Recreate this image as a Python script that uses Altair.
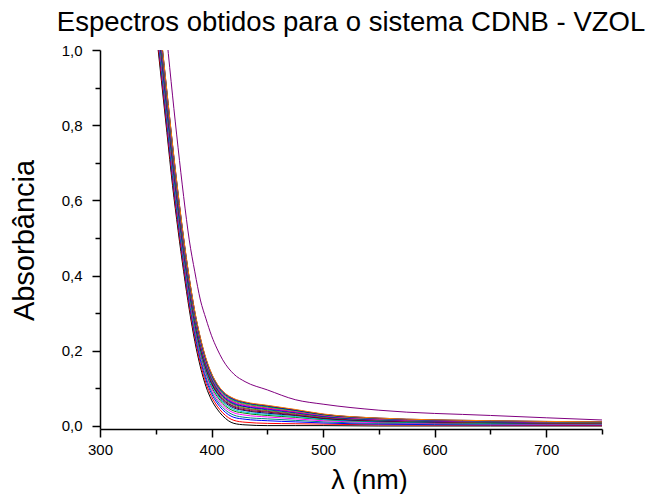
import altair as alt
import pandas as pd

# wavelength grid (nm)
lam = [350, 355, 360, 365, 370, 375, 380, 385, 390, 395, 400, 405, 410, 420, 430, 450, 475, 500, 550, 650, 750]

black   = [1.060, 0.920, 0.780, 0.640, 0.520, 0.410, 0.310, 0.225, 0.157, 0.105, 0.069, 0.045, 0.027, 0.007, 0.003, 0.001, 0.001, 0.001, 0.000, 0.000, 0.000]
red     = [1.072, 0.933, 0.793, 0.653, 0.532, 0.421, 0.320, 0.235, 0.166, 0.114, 0.078, 0.053, 0.035, 0.015, 0.010, 0.007, 0.006, 0.005, 0.003, 0.002, 0.001]
blue    = [1.084, 0.946, 0.806, 0.666, 0.544, 0.432, 0.330, 0.244, 0.176, 0.123, 0.086, 0.061, 0.043, 0.023, 0.018, 0.014, 0.011, 0.008, 0.005, 0.003, 0.003]
teal    = [1.093, 0.956, 0.816, 0.676, 0.553, 0.440, 0.338, 0.251, 0.183, 0.130, 0.092, 0.067, 0.049, 0.029, 0.023, 0.019, 0.015, 0.011, 0.007, 0.005, 0.004]
magenta = [1.102, 0.966, 0.826, 0.686, 0.562, 0.448, 0.346, 0.259, 0.190, 0.137, 0.099, 0.073, 0.055, 0.035, 0.029, 0.024, 0.019, 0.014, 0.009, 0.006, 0.005]
green   = [1.110, 0.975, 0.835, 0.695, 0.570, 0.455, 0.353, 0.265, 0.196, 0.143, 0.105, 0.079, 0.060, 0.040, 0.034, 0.028, 0.023, 0.017, 0.011, 0.007, 0.006]
cyan    = [1.116, 0.982, 0.842, 0.702, 0.576, 0.460, 0.358, 0.270, 0.201, 0.147, 0.109, 0.083, 0.064, 0.044, 0.037, 0.031, 0.025, 0.018, 0.012, 0.008, 0.006]
navy    = [1.122, 0.988, 0.848, 0.708, 0.582, 0.466, 0.363, 0.275, 0.205, 0.152, 0.113, 0.087, 0.068, 0.048, 0.041, 0.034, 0.028, 0.020, 0.013, 0.009, 0.007]
wine    = [1.126, 0.993, 0.853, 0.713, 0.586, 0.469, 0.366, 0.278, 0.208, 0.155, 0.116, 0.089, 0.071, 0.051, 0.043, 0.037, 0.029, 0.021, 0.014, 0.009, 0.007]
purple  = [1.130, 0.997, 0.857, 0.717, 0.590, 0.473, 0.370, 0.281, 0.212, 0.158, 0.119, 0.092, 0.073, 0.053, 0.046, 0.039, 0.031, 0.023, 0.015, 0.010, 0.008]
olive   = [1.134, 1.001, 0.861, 0.721, 0.594, 0.477, 0.373, 0.284, 0.215, 0.161, 0.122, 0.095, 0.076, 0.056, 0.048, 0.041, 0.033, 0.024, 0.016, 0.010, 0.008]
dcyan   = [1.138, 1.006, 0.866, 0.726, 0.598, 0.480, 0.376, 0.287, 0.218, 0.164, 0.124, 0.097, 0.078, 0.058, 0.051, 0.043, 0.035, 0.025, 0.016, 0.011, 0.009]
royal   = [1.141, 1.009, 0.869, 0.729, 0.601, 0.483, 0.379, 0.290, 0.220, 0.166, 0.127, 0.099, 0.080, 0.060, 0.052, 0.045, 0.036, 0.026, 0.017, 0.011, 0.009]
violet  = [1.144, 1.012, 0.872, 0.732, 0.604, 0.486, 0.381, 0.292, 0.223, 0.168, 0.129, 0.101, 0.082, 0.062, 0.054, 0.046, 0.037, 0.027, 0.018, 0.012, 0.009]
pink    = [1.147, 1.016, 0.876, 0.736, 0.607, 0.488, 0.384, 0.295, 0.225, 0.170, 0.131, 0.103, 0.084, 0.064, 0.056, 0.048, 0.038, 0.028, 0.018, 0.012, 0.010]
gray    = [1.150, 1.019, 0.879, 0.739, 0.610, 0.491, 0.387, 0.297, 0.227, 0.173, 0.133, 0.105, 0.086, 0.066, 0.058, 0.050, 0.040, 0.029, 0.019, 0.013, 0.010]
green2  = [1.153, 1.022, 0.882, 0.742, 0.613, 0.494, 0.389, 0.299, 0.230, 0.175, 0.135, 0.107, 0.088, 0.068, 0.060, 0.051, 0.041, 0.030, 0.020, 0.013, 0.010]
blue2   = [1.156, 1.026, 0.886, 0.746, 0.616, 0.496, 0.392, 0.302, 0.232, 0.177, 0.137, 0.109, 0.090, 0.070, 0.062, 0.053, 0.042, 0.031, 0.020, 0.013, 0.011]
navy2   = [1.158, 1.028, 0.888, 0.748, 0.618, 0.498, 0.393, 0.303, 0.233, 0.178, 0.139, 0.111, 0.092, 0.072, 0.063, 0.054, 0.043, 0.031, 0.021, 0.014, 0.011]
orange  = [1.160, 1.030, 0.890, 0.750, 0.620, 0.500, 0.395, 0.305, 0.235, 0.180, 0.140, 0.112, 0.093, 0.073, 0.064, 0.055, 0.044, 0.032, 0.021, 0.014, 0.011]
outlier = [1.350, 1.200, 1.030, 0.880, 0.740, 0.610, 0.495, 0.410, 0.335, 0.285, 0.240, 0.205, 0.176, 0.138, 0.118, 0.096, 0.070, 0.058, 0.042, 0.028, 0.016]

series_names = ["s01", "s02", "s03", "s04", "s05", "s06", "s07", "s08", "s09", "s10",
                "s11", "s12", "s13", "s14", "s15", "s16", "s17", "s18", "s19", "s20", "s21"]
series_vals = [black, red, blue, teal, magenta, green, cyan, navy, wine, purple,
               olive, dcyan, royal, violet, pink, gray, green2, blue2, navy2, orange, outlier]
series_colors = ["#000000", "#FF0000", "#0000FF", "#008080", "#FF00FF", "#008000", "#00C8C8",
                 "#000080", "#800000", "#800080", "#808000", "#008080", "#0000A0", "#8000FF",
                 "#FF0080", "#808080", "#00CC00", "#0000FF", "#000080", "#FF8000", "#800080"]

x_major = [300, 400, 500, 600, 700]
x_minor = [350, 450, 550, 650, 750]
y_major = [0.0, 0.2, 0.4, 0.6, 0.8, 1.0]
y_minor = [0.1, 0.3, 0.5, 0.7, 0.9]

rows = []
for name, vals in zip(series_names, series_vals):
    for l, a in zip(lam, vals):
        rows.append({"lam": l, "A": a, "series": name})
df = pd.DataFrame(rows)

FONT = "Liberation Sans"
xscale = alt.Scale(domain=[300, 750], nice=False, zero=False)
yscale = alt.Scale(domain=[-0.008, 1.0], nice=False, zero=False)

lines = alt.Chart(df).mark_line(strokeWidth=1, clip=True, interpolate="monotone").encode(
    x=alt.X("lam:Q", scale=xscale,
            axis=alt.Axis(values=x_major, orient="bottom", tickSize=8, tickWidth=1.5,
                          domainWidth=1.5, domainColor="black", tickColor="black",
                          labelFont=FONT, labelFontSize=15, labelColor="black",
                          labelBaseline="alphabetic", labelPadding=17, labelFlush=False,
                          grid=False, title="λ (nm)", titleFont=FONT, titleFontSize=27,
                          titleFontWeight="normal", titleColor="black",
                          titleX=269, titleY=59, titleAlign="center",
                          titleBaseline="alphabetic")),
    y=alt.Y("A:Q", scale=yscale,
            axis=alt.Axis(values=y_major, orient="left", tickSize=8, tickWidth=1.5,
                          domainWidth=1.5, domainColor="black", tickColor="black",
                          labelFont=FONT, labelFontSize=15, labelColor="black",
                          labelPadding=10, labelFlush=False,
                          labelExpr="replace(format(datum.value, '.1f'), '.', ',')",
                          grid=False, title="Absorbância", titleFont=FONT, titleFontSize=29,
                          titleFontWeight="normal", titleColor="black",
                          titleX=-67, titleY=190, titleAngle=270, titleAlign="center",
                          titleBaseline="alphabetic")),
    color=alt.Color("series:N", scale=alt.Scale(domain=series_names, range=series_colors),
                    legend=None),
)

minor = alt.Chart(df).mark_line(strokeOpacity=0, clip=True).encode(
    x=alt.X("lam:Q", scale=xscale,
            axis=alt.Axis(values=x_minor, orient="bottom", tickSize=5, tickWidth=1.5,
                          tickColor="black", domain=False, labels=False, grid=False,
                          title=None)),
    y=alt.Y("A:Q", scale=yscale,
            axis=alt.Axis(values=y_minor, orient="left", tickSize=5, tickWidth=1.5,
                          tickColor="black", domain=False, labels=False, grid=False,
                          title=None)),
    detail="series:N",
)

chart = alt.layer(lines, minor).resolve_axis(x="independent", y="independent").properties(
    width=502, height=379,
    title=alt.TitleParams("Espectros obtidos para o sistema CDNB - VZOL", font=FONT,
                          fontSize=27.5, fontWeight="normal", color="black",
                          anchor="middle", frame="group", offset=17, baseline="alphabetic",
                          dy=32),
    autosize=alt.AutoSizeParams(type="none"),
    padding={"left": 100, "top": 50, "right": 49, "bottom": 65},
    background="white",
).configure_view(stroke=None)

chart.save("out.html", embed_options={"renderer": "svg", "actions": False})
